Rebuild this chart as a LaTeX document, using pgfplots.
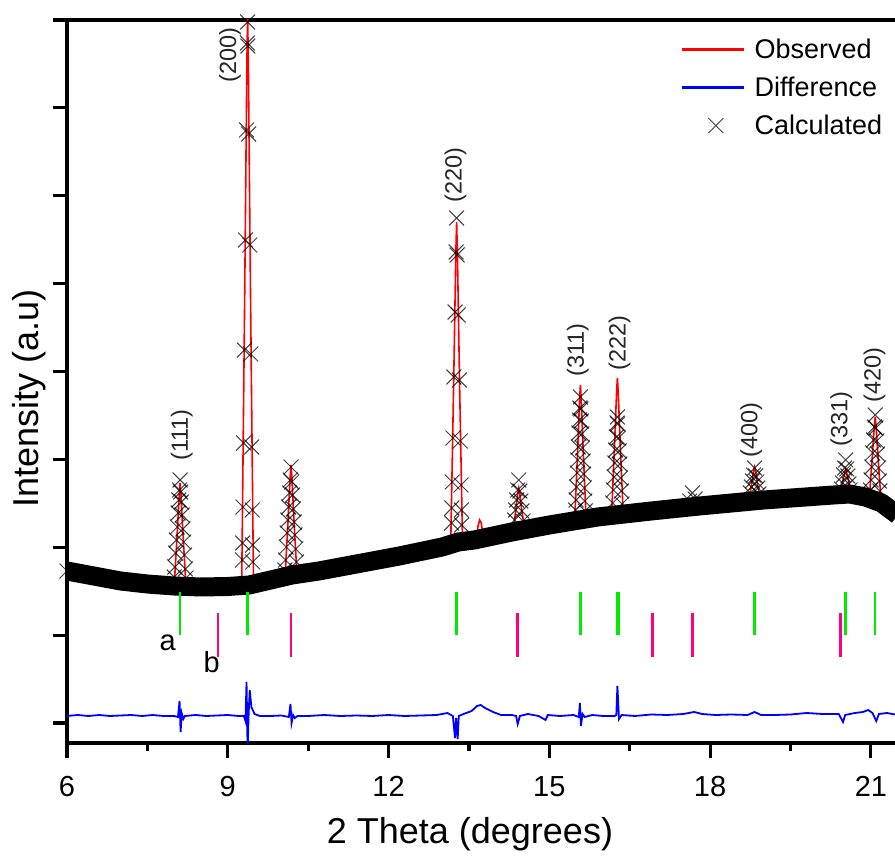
\documentclass[border=0pt]{standalone}
\usepackage{pgfplots}
\pgfplotsset{compat=1.18}
\usepackage{fontspec}
\setmainfont{Liberation Sans}
\definecolor{obsred}{RGB}{255,0,0}
\definecolor{diffblue}{RGB}{0,0,255}
\definecolor{tickgreen}{RGB}{0,235,0}
\definecolor{tickpink}{RGB}{255,0,128}
\pgfplotsset{
  linelegend/.style={legend image code/.code={\draw[##1, line width=#1] (0bp,0bp) -- (62bp,0bp);}},
  marklegend/.style={legend image code/.code={\draw[##1] plot[only marks] coordinates {(34bp,0bp)};}},
}
\begin{document}
\begin{tikzpicture}
\path[use as bounding box] (-67bp,-114bp) rectangle (828bp,743bp);
\begin{axis}[
  at={(0,0)}, anchor=south west,
  scale only axis, width=828bp, height=723bp,
  xmin=6, xmax=21.45, ymin=0, ymax=723,
  axis x line=box, axis y line=left,
  axis line style={-, line width=3.5bp, black},
  xtick={6,9,12,15,18,21},
  minor xtick={7.5,10.5,13.5,16.5,19.5},
  ytick={20,107.875,195.75,283.625,371.5,459.375,547.25,635.125,723},
  yticklabels={},
  xtick pos=left, ytick pos=left,
  tick align=outside,
  major tick length=14.5bp, minor tick length=8bp,
  tick style={line width=3.2bp, black},
  /pgf/number format/assume math mode=true,
  xticklabel style={font=\fontsize{29bp}{32bp}\selectfont, anchor=center, yshift=-29bp},
  xlabel={2 Theta (degrees)}, ylabel={Intensity (a.u)},
  label style={font=\fontsize{36bp}{40bp}\selectfont},
  xlabel style={at={(axis description cs:0.4867,0)}, anchor=center, yshift=-91bp},
  ylabel style={at={(axis description cs:0,0.476)}, anchor=center, yshift=38bp},
  legend style={at={(axis description cs:0.7403,0.974)}, anchor=north west,
    draw=none, fill=none, font=\fontsize{27bp}{30bp}\selectfont,
    row sep=17bp, inner sep=0pt,
    nodes={inner sep=0pt},
    /tikz/every odd column/.append style={column sep=9bp}},
  legend cell align=left,
]
% Observed
\addplot[obsred, line width=1.6bp, linelegend=2.4bp]
coordinates {(6.0,172) (6.5,167) (7.0,162) (7.5,159) (8.0,157) (8.055,208) (8.095,250) (8.11,260) (8.125,250) (8.165,208) (8.22,157) (8.5,156) (9.0,156) (9.26,158) (9.315,444) (9.355,673) (9.37,730) (9.385,673) (9.425,444) (9.48,160) (9.8,163) (10.07,167) (10.125,223) (10.165,267) (10.18,278) (10.195,267) (10.235,223) (10.29,169) (10.7,172) (11.5,180) (12.2,187) (13.0,196) (13.16,199) (13.215,360) (13.255,489) (13.27,521) (13.285,489) (13.325,360) (13.38,202) (13.6,203) (13.64,206) (13.67,217) (13.7,223) (13.73,220) (13.76,209) (13.8,205) (14.0,207) (14.32,211) (14.375,233) (14.415,251) (14.43,255) (14.445,251) (14.485,233) (14.54,213) (15.0,218) (15.47,218) (15.525,288) (15.565,344) (15.58,358) (15.595,344) (15.635,288) (15.69,220) (15.9,226) (16.16,226) (16.215,296) (16.255,351) (16.27,365) (16.285,351) (16.325,296) (16.38,227) (16.9,232) (17.8,237) (18.72,241) (18.775,259) (18.815,273) (18.83,276) (18.845,273) (18.885,259) (18.94,242) (19.0,243) (20.3,248) (20.42,249) (20.475,262) (20.515,271) (20.53,274) (20.545,271) (20.585,262) (20.64,248) (20.9,246) (20.97,245) (21.025,285) (21.065,318) (21.08,326) (21.095,318) (21.135,285) (21.19,241) (21.5,228)};
\addlegendentry{Observed}
% Difference
\addplot[diffblue, line width=1.8bp, linelegend=3.4bp]
coordinates {(6.0,27) (6.2,28) (6.4,27) (6.6,28) (6.8,27) (7.0,27.5) (7.2,28) (7.4,27) (7.6,28) (7.8,27) (8.0,27) (8.07,26) (8.1,42) (8.12,11) (8.14,30) (8.17,24) (8.2,27) (8.4,28) (8.6,27) (8.8,27.5) (9.0,28) (9.2,27) (9.3,27) (9.33,22) (9.35,61) (9.37,-7) (9.39,30) (9.41,53) (9.44,36) (9.5,29) (9.6,27) (9.8,27) (10.0,27.5) (10.14,26) (10.17,39) (10.19,20) (10.22,28) (10.25,25) (10.3,27) (10.5,27) (10.8,28) (11.1,27) (11.4,27.5) (11.7,27) (12.0,28) (12.3,27) (12.6,27.5) (12.9,28) (13.1,30) (13.2,27) (13.24,5) (13.26,25) (13.29,4) (13.31,27) (13.4,29) (13.55,32) (13.65,37) (13.72,38) (13.8,35) (13.95,31) (14.1,28) (14.3,28) (14.38,27) (14.41,19) (14.45,27) (14.6,29) (14.8,27) (14.93,23) (14.97,28) (15.2,27) (15.45,28) (15.55,26) (15.57,40) (15.59,17) (15.62,29) (15.66,26) (15.8,28) (16.0,27) (16.22,27) (16.25,28) (16.27,57) (16.3,24) (16.35,28) (16.6,27) (16.9,28.5) (17.2,28) (17.5,29) (17.7,31) (17.85,29) (18.1,28) (18.4,28.5) (18.7,28) (18.83,31) (18.95,28) (19.2,28) (19.5,28.5) (19.8,30) (20.1,29) (20.4,29) (20.48,21) (20.52,28) (20.7,30) (20.85,31) (20.95,33) (21.03,30) (21.1,22) (21.15,29) (21.3,30) (21.5,28)};
\addlegendentry{Difference}
% Calculated background band
\addplot[black, line width=19bp, line join=round, forget plot]
coordinates {(5.9,173) (6.0,172) (6.5,167) (7.0,162) (7.5,159) (8.0,157) (8.5,156) (9.0,156.5) (9.4,158) (9.8,163) (10.2,168) (10.7,172) (11.5,180) (12.2,187) (13.0,196) (13.3,201) (13.6,203) (14.3,211) (15.0,218) (15.9,226) (16.9,232) (17.8,237) (19.0,243) (20.3,248) (20.6,249) (20.9,246) (21.2,240) (21.5,228)};
% Calculated markers
\addplot[only marks, mark=x, mark size=10.5bp, mark options={black, line width=1bp, opacity=0.75}, marklegend]
coordinates {(6.0,172)
(8.11,263) (8.099,253) (8.121,251) (8.087,243) (8.133,241) (8.073,230) (8.147,228) (8.057,216) (8.163,214) (8.042,203) (8.178,201) (8.027,190) (8.193,188) (8.012,176) (8.208,174) (8.0,166) (8.22,165)
(9.37,721) (9.365,700) (9.375,697) (9.35,613) (9.39,609) (9.33,503) (9.41,498) (9.311,393) (9.429,389) (9.295,300) (9.445,296) (9.284,236) (9.456,233) (9.277,200) (9.463,198) (9.274,183) (9.466,181)
(10.18,276) (10.166,263) (10.194,261) (10.151,250) (10.209,248) (10.136,236) (10.224,234) (10.121,223) (10.239,221) (10.107,210) (10.253,208) (10.091,196) (10.269,194) (10.077,183) (10.283,181) (10.066,173) (10.294,172)
(13.27,525) (13.26,491) (13.28,488) (13.241,431) (13.299,428) (13.22,366) (13.32,363) (13.202,305) (13.338,302) (13.189,261) (13.351,258) (13.181,235) (13.359,233) (13.176,220) (13.364,218)
(14.43,263) (14.41,253) (14.45,252) (14.391,243) (14.469,242) (14.371,233) (14.489,232) (14.352,223) (14.508,222)
(15.58,346) (15.571,335) (15.589,334) (15.562,323) (15.598,322) (15.552,310) (15.608,309) (15.541,296) (15.619,295) (15.53,283) (15.63,282) (15.52,270) (15.64,269) (15.509,256) (15.651,255) (15.499,243) (15.661,242) (15.491,233) (15.669,232)
(16.27,326) (16.264,320) (16.276,319) (16.25,306) (16.29,305) (16.237,293) (16.303,292) (16.224,280) (16.316,279) (16.21,266) (16.33,265) (16.197,253) (16.343,252) (16.184,240) (16.356,239)
(17.62,242) (17.67,250) (17.72,244)
(18.83,275) (18.81,268) (18.85,267) (18.79,262) (18.87,261) (18.77,256) (18.89,255) (18.75,250) (18.91,249)
(20.53,283) (20.51,275) (20.55,274) (20.49,268) (20.57,267) (20.47,260) (20.59,259) (20.45,254) (20.61,253)
(21.08,328) (21.066,316) (21.094,315) (21.05,303) (21.11,302) (21.035,290) (21.125,289) (21.018,276) (21.142,275) (21.003,263) (21.157,262) (20.991,253) (21.169,252)};
\addlegendentry{Calculated}
% reflection ticks
\addplot[only marks, mark=|, mark size=21.5bp, mark options={tickgreen, line width=2.6bp}, forget plot]
coordinates {(8.11,129.5) (9.37,129.5) (13.27,129.5) (15.58,129.5) (16.265,129.5) (16.285,129.5) (18.83,129.5) (20.53,129.5) (21.08,129.5)};
\addplot[only marks, mark=|, mark size=22bp, mark options={tickpink, line width=2.6bp}, forget plot]
coordinates {(8.82,108) (10.18,108) (14.41,108) (16.93,108) (17.67,108) (20.43,108)};
% labels
\node[font=\fontsize{29bp}{31bp}\selectfont] at (axis cs:7.88,100) {a};
\node[font=\fontsize{29bp}{31bp}\selectfont] at (axis cs:8.70,81) {b};
\begin{scope}[every node/.style={rotate=90, font=\fontsize{23.5bp}{26bp}\selectfont, text=black!85}]
\node at (axis cs:8.144,308) {(111)};
\node at (axis cs:9.04,688) {(200)};
\node at (axis cs:13.25,568) {(220)};
\node at (axis cs:15.53,393) {(311)};
\node at (axis cs:16.31,400) {(222)};
\node at (axis cs:18.77,313) {(400)};
\node at (axis cs:20.45,324) {(331)};
\node at (axis cs:21.07,368) {(420)};
\end{scope}
\end{axis}
\end{tikzpicture}
\end{document}
